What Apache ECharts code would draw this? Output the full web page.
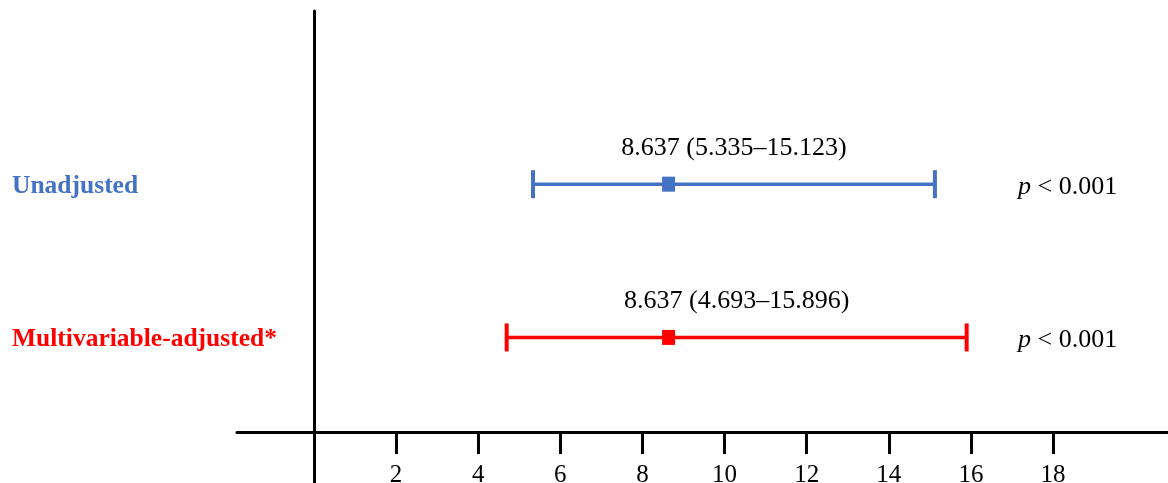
<!DOCTYPE html>
<html>
<head>
<meta charset="utf-8">
<script src="https://cdn.jsdelivr.net/npm/echarts@6/dist/echarts.min.js"></script>
<style>html,body{margin:0;padding:0;background:#fff;}#c{width:1168px;height:483px;}</style>
</head>
<body>
<div id="c"></div>
<script>
const rowNames = ['Unadjusted', 'Multivariable-adjusted*'];
const rowPos = [2, 1];
const estimates = [8.637, 8.637];
const lowerCI = [5.335, 4.693];
const upperCI = [15.123, 15.896];
const pLabels = ['< 0.001', '< 0.001'];
const rowColors = ['#4472C4', '#FF0000'];
const xTicks = [2, 4, 6, 8, 10, 12, 14, 16, 18];

const serif = '"Liberation Serif", "Times New Roman", serif';
const data = rowNames.map((n, i) => [rowPos[i], estimates[i], lowerCI[i], upperCI[i]]);

const chart = echarts.init(document.getElementById('c'), null, {renderer: 'canvas'});
chart.setOption({
  animation: false,
  backgroundColor: '#fff',
  grid: {left: 237, right: 0, top: 11, bottom: 0, containLabel: false, outerBoundsMode: 'none'},
  xAxis: {
    type: 'value', min: -1.875, max: 20.8, position: 'bottom', offset: -51,
    axisLine: {onZero: false, lineStyle: {color: '#000', width: 3}},
    axisTick: {show: true, length: 22, customValues: xTicks, lineStyle: {color: '#000', width: 3}},
    axisLabel: {customValues: xTicks, margin: 31, color: '#000', fontSize: 25, fontFamily: serif},
    splitLine: {show: false}
  },
  yAxis: {
    type: 'value', min: 0.05, max: 3.13,
    axisLine: {show: true, onZero: true, lineStyle: {color: '#000', width: 3}},
    axisTick: {show: false}, axisLabel: {show: false}, splitLine: {show: false}
  },
  series: [{
    type: 'custom',
    data: data,
    renderItem: function (params, api) {
      const i = params.dataIndex;
      const y = api.value(0), est = api.value(1), lo = api.value(2), hi = api.value(3);
      const pL = api.coord([lo, y]), pH = api.coord([hi, y]), pE = api.coord([est, y]);
      const c = rowColors[i];
      const cap = 14, sqW = 13, sqH = 15;
      const cs = params.coordSys;
      return {type: 'group', children: [
        {type: 'line', shape: {x1: pL[0], y1: pL[1], x2: pH[0], y2: pH[1]}, style: {stroke: c, lineWidth: 3.5}},
        {type: 'line', shape: {x1: pL[0], y1: pL[1] - cap, x2: pL[0], y2: pL[1] + cap}, style: {stroke: c, lineWidth: 4}},
        {type: 'line', shape: {x1: pH[0], y1: pH[1] - cap, x2: pH[0], y2: pH[1] + cap}, style: {stroke: c, lineWidth: 4}},
        {type: 'rect', shape: {x: pE[0] - sqW / 2, y: pE[1] - sqH / 2, width: sqW, height: sqH}, style: {fill: c}},
        {type: 'text', x: (pL[0] + pH[0]) / 2, y: pE[1] - 36,
          style: {text: est.toFixed(3) + ' (' + lo.toFixed(3) + '\u2013' + hi.toFixed(3) + ')',
            fontSize: 26, fontFamily: serif, fill: '#000', align: 'center', verticalAlign: 'middle'}},
        {type: 'text', x: cs.x + cs.width - 150, y: pE[1] + 3,
          style: {text: '{i|p} ' + pLabels[i], fontSize: 26, fontFamily: serif, fill: '#000',
            align: 'left', verticalAlign: 'middle',
            rich: {i: {fontStyle: 'italic', fontSize: 26, fontFamily: serif, fill: '#000'}}}},
        {type: 'text', x: 12, y: pE[1] + 2,
          style: {text: rowNames[i], fontSize: 25.5, fontWeight: 'bold', fontFamily: serif, fill: c,
            align: 'left', verticalAlign: 'middle'}}
      ]};
    }
  }]
});
</script>
</body>
</html>
